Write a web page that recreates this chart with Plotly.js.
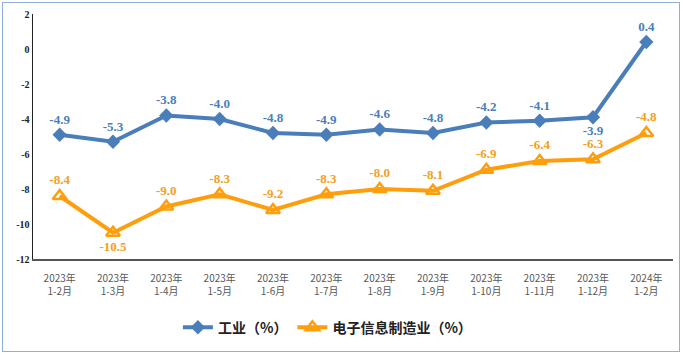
<!DOCTYPE html>
<html><head><meta charset="utf-8">
<script src="https://cdn.plot.ly/plotly-3.0.1.min.js"></script>
<style>
body{margin:0;padding:0;background:#fff;}
#chart{width:683px;height:355px;}
#frame{position:absolute;left:2px;top:2px;width:676px;height:348px;border:1.5px solid #8fb0dc;pointer-events:none;}
</style></head>
<body>
<div id="chart"></div><div id="frame"></div>
<script>
const categories = ["2023年<br>1-2月","2023年<br>1-3月","2023年<br>1-4月","2023年<br>1-5月","2023年<br>1-6月","2023年<br>1-7月","2023年<br>1-8月","2023年<br>1-9月","2023年<br>1-10月","2023年<br>1-11月","2023年<br>1-12月","2024年<br>1-2月"];
const industry = [-4.9,-5.3,-3.8,-4.0,-4.8,-4.9,-4.6,-4.8,-4.2,-4.1,-3.9,0.4];
const electronics = [-8.4,-10.5,-9.0,-8.3,-9.2,-8.3,-8.0,-8.1,-6.9,-6.4,-6.3,-4.8];
const yTicks = [-12,-10,-8,-6,-4,-2,0,2];

const blue = "#4a7ebb", orange = "#ff9e0c";
const labelFont = {family:"Liberation Serif", size:13, weight:"bold"};

const traces = [
 {x:categories, y:industry, name:"工业（%）", type:"scatter", mode:"lines+markers+text",
  line:{color:blue,width:4}, marker:{symbol:"diamond",size:11,color:blue},
  text:industry.map(v=>v.toFixed(1)),
  textposition:industry.map((v,i)=>i===10?"bottom center":"top center"),
  textfont:Object.assign({color:blue},labelFont), cliponaxis:false},
 {x:categories, y:electronics, name:"电子信息制造业（%）", type:"scatter", mode:"lines+markers+text",
  line:{color:orange,width:4}, marker:{symbol:"triangle-up-open",size:12,color:orange,line:{width:2.5,color:orange}},
  text:electronics.map(v=>v.toFixed(1)),
  textposition:electronics.map((v,i)=>i===1?"bottom center":"top center"),
  textfont:Object.assign({color:"#f5a020"},labelFont), cliponaxis:false}
];

const layout = {
 width:683, height:355,
 margin:{l:33,r:10,t:14,b:96,autoexpand:false},
 paper_bgcolor:"#fff", plot_bgcolor:"#fff",
 showlegend:true,
 legend:{orientation:"h", x:0.46, xanchor:"center", y:-0.215, yanchor:"top",
   font:{family:"Noto Sans CJK SC", size:14, color:"#222", weight:"bold"}, itemwidth:30},
 xaxis:{type:"category", showgrid:false, showline:true, linecolor:"#555", linewidth:1.5,
   tickfont:{family:"Noto Sans CJK SC", size:10, color:"#595959"}, ticks:"", ticklabelstandoff:9,
   range:[-0.5,11.5], automargin:false},
 yaxis:{range:[-12,2], tickvals:yTicks, ticktext:yTicks.map(String), showgrid:false, zeroline:false,
   showline:true, linecolor:"#222", linewidth:1.5, ticks:"", automargin:false,
   tickfont:{family:"Liberation Serif", size:10, color:"#222", weight:"bold"}}
};
Plotly.newPlot("chart", traces, layout, {displayModeBar:false, staticPlot:true});
</script>
</body></html>
